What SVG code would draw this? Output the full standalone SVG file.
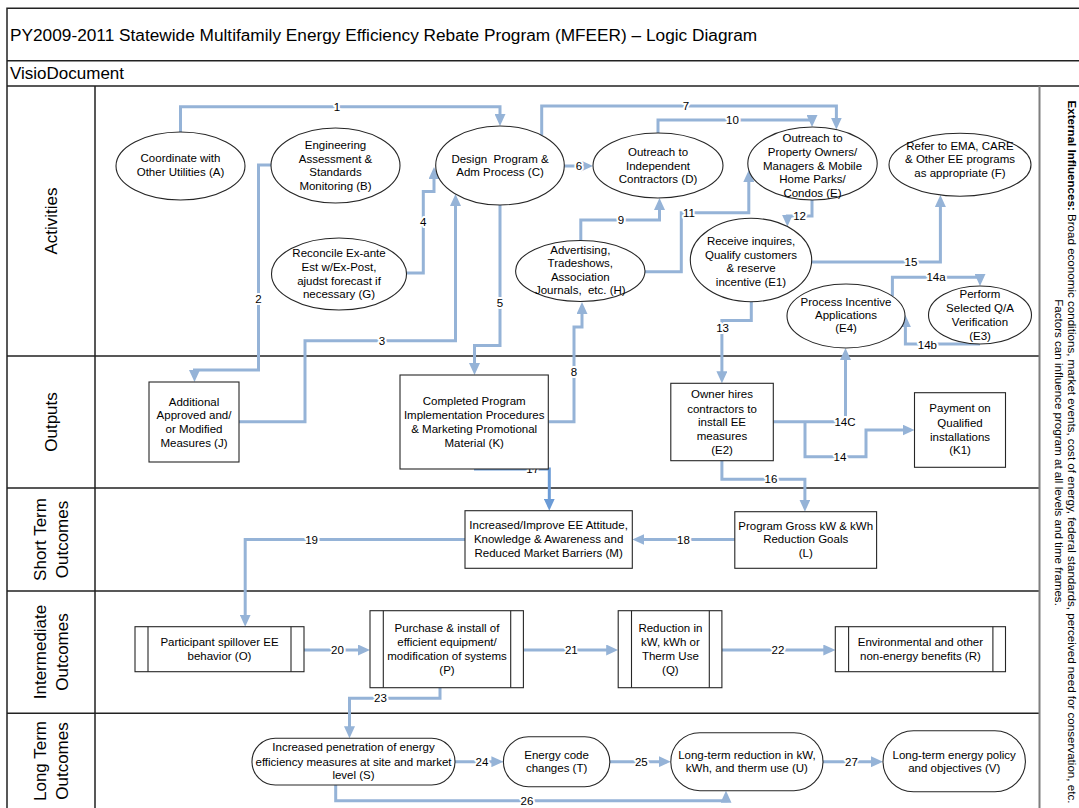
<svg xmlns="http://www.w3.org/2000/svg" width="1079" height="808" viewBox="0 0 1079 808">
<style>
.frm{stroke:#222;stroke-width:1.5;fill:none}
.gry{stroke:#7f7f7f;stroke-width:2;fill:none}
.nd{fill:#fff;stroke:#262626;stroke-width:1.1}
.bar{stroke:#262626;stroke-width:1.1;fill:none}
.t{font-family:"Liberation Sans",Arial,sans-serif;font-size:11.5px;fill:#000;text-anchor:middle}
.ln{font-family:"Liberation Sans",Arial,sans-serif;font-size:17px;fill:#000;text-anchor:middle}
.hd{font-family:"Liberation Sans",Arial,sans-serif;font-size:17px;fill:#000}
.ttl{font-size:17.25px}
.ext{font-family:"Liberation Sans",Arial,sans-serif;font-size:11.6px;fill:#000;text-anchor:middle}
.c{fill:none;stroke:#95b3d7;stroke-width:3;marker-end:url(#ah)}
.c17{fill:none;stroke:#6b9bd6;stroke-width:3;marker-end:url(#ah17)}
.lb{font-family:"Liberation Sans",Arial,sans-serif;font-size:11.5px;fill:#000;text-anchor:middle;stroke:#fff;stroke-width:4;stroke-linejoin:round;paint-order:stroke}
</style>
<defs>
<marker id="ah" markerUnits="userSpaceOnUse" viewBox="0 0 12 11" markerWidth="12" markerHeight="11" refX="8" refY="5.5" orient="auto"><path d="M0,0 L12,5.5 L0,11 z" fill="#95b3d7"/></marker>
<marker id="ah17" markerUnits="userSpaceOnUse" viewBox="0 0 12 11" markerWidth="12" markerHeight="11" refX="8" refY="5.5" orient="auto"><path d="M0,0 L12,5.5 L0,11 z" fill="#6b9bd6"/></marker>
</defs>
<rect width="1079" height="808" fill="#fff"/>
<g id="frame">
<path class="frm" d="M1079,8.3 H7 V808 M7,60.7 H1079 M7,86 H1079 M95,86 V808 M7,356 H1040 M7,488 H1040 M7,591 H1040 M7,713.3 H1040"/>
<path class="gry" d="M1039.5,86 V808"/>
<text class="hd ttl" x="10" y="41">PY2009-2011 Statewide Multifamily Energy Efficiency Rebate Program (MFEER) – Logic Diagram</text>
<text class="hd" x="10" y="78.5">VisioDocument</text>
<text class="ln" transform="translate(0,221) rotate(-90)" x="0" y="56.5">Activities</text>
<text class="ln" transform="translate(0,422) rotate(-90)" x="0" y="56.5">Outputs</text>
<text class="ln" transform="translate(0,539.5) rotate(-90)"><tspan x="0" y="46">Short Term</tspan><tspan x="0" y="67.5">Outcomes</tspan></text>
<text class="ln" transform="translate(0,652) rotate(-90)"><tspan x="0" y="46">Intermediate</tspan><tspan x="0" y="67.5">Outcomes</tspan></text>
<text class="ln" transform="translate(0,761) rotate(-90)"><tspan x="0" y="46">Long Term</tspan><tspan x="0" y="67.5">Outcomes</tspan></text>
<text class="ext" transform="translate(1067.8,452) rotate(90)" x="0" y="0"><tspan font-weight="bold">External Influences:</tspan> Broad economic conditions, market events, cost of energy, federal standards, perceived need for conservation, etc.</text>
<text class="ext" transform="translate(1054.5,452.5) rotate(90)" x="0" y="0">Factors can influence program at all levels and time frames.</text>
</g>
<g id="connectors">
<path class="c" d="M180.5,132 V106.7 H500 V122"/>
<path class="c" d="M271,165 H258.5 V370 H194.5 V378"/>
<path class="c" d="M239,421.7 H305 V340.7 H455.5 V198"/>
<path class="c" d="M406,273 H423.3 V191.5 H434 V171"/>
<path class="c" d="M500,205 V345.5 H474.5 V371"/>
<path class="c" d="M564.3,166 H589"/>
<path class="c" d="M541.7,135.4 V106 H836.4 V125.6"/>
<path class="c" d="M548.3,421.7 H574 V327 H582 V306"/>
<path class="c" d="M580.8,240.5 V220 H659.5 V202"/>
<path class="c" d="M658,133 V120 H812 V123"/>
<path class="c" d="M645,271.7 H681.3 V212.7 H748.8 V174"/>
<path class="c" d="M812,200 V216 H787.4 V222.6"/>
<path class="c" d="M751.3,301.7 V320.5 H721.9 V379.3"/>
<path class="c" d="M773.3,421.7 H845.5 V352"/>
<path class="c" d="M805,421.7 V456.7 H866 V430 H910.5"/>
<path class="c" d="M811.9,262 H940.4 V199"/>
<path class="c" d="M892.4,296.2 V277.3 H980 V282"/>
<path class="c" d="M980,344 H905.4 V319"/>
<path class="c" d="M721.9,460.7 V479.3 H804.9 V507.7"/>
<path class="c17" d="M474,469 H549.3 V506.7"/>
<path class="c" d="M734.8,539.5 H636.3"/>
<path class="c" d="M465,539.5 H245.2 V622.7"/>
<path class="c" d="M304,650 H366"/>
<path class="c" d="M523.4,650 H614.2"/>
<path class="c" d="M721.9,650 H831.3"/>
<path class="c" d="M440,687.7 V698.3 H349.5 V734.3"/>
<path class="c" d="M455,761.7 H499.4"/>
<path class="c" d="M609.8,761.7 H666.8"/>
<path class="c" d="M335.7,785 V800.7 H726 V794.7"/>
<path class="c" d="M823,761.7 H879"/>
<text class="lb" x="337" y="110.8">1</text>
<text class="lb" x="258.5" y="303">2</text>
<text class="lb" x="382" y="344.8">3</text>
<text class="lb" x="423.3" y="225.8">4</text>
<text class="lb" x="500" y="306.8">5</text>
<text class="lb" x="579" y="170">6</text>
<text class="lb" x="686" y="110">7</text>
<text class="lb" x="574" y="375.8">8</text>
<text class="lb" x="621" y="224">9</text>
<text class="lb" x="732.4" y="124">10</text>
<text class="lb" x="689" y="216.8">11</text>
<text class="lb" x="799.6" y="220">12</text>
<text class="lb" x="722.6" y="332.4">13</text>
<text class="lb" x="845" y="425.8">14C</text>
<text class="lb" x="840" y="460.8">14</text>
<text class="lb" x="911" y="266.4">15</text>
<text class="lb" x="936" y="281.4">14a</text>
<text class="lb" x="927.4" y="349">14b</text>
<text class="lb" x="770.9" y="483.4">16</text>
<text class="lb" x="532.7" y="473">17</text>
<text class="lb" x="683.4" y="543.6">18</text>
<text class="lb" x="311.6" y="544">19</text>
<text class="lb" x="337.5" y="654">20</text>
<text class="lb" x="571.3" y="654">21</text>
<text class="lb" x="777.9" y="654">22</text>
<text class="lb" x="380.5" y="702.4">23</text>
<text class="lb" x="482" y="765.8">24</text>
<text class="lb" x="641.3" y="765.8">25</text>
<text class="lb" x="527" y="804.8">26</text>
<text class="lb" x="851.4" y="765.8">27</text>
</g>
<g id="node-A"><ellipse class="nd" cx="180.5" cy="166" rx="64.5" ry="34"/><text class="t"><tspan x="180.5" y="162.4">Coordinate with</tspan><tspan x="180.5" y="176.4">Other Utilities (A)</tspan></text></g>
<g id="node-B"><ellipse class="nd" cx="335.5" cy="165.5" rx="64.5" ry="37.5"/><text class="t"><tspan x="335.5" y="149.1">Engineering</tspan><tspan x="335.5" y="163.1">Assessment &amp;</tspan><tspan x="335.5" y="176.4">Standards</tspan><tspan x="335.5" y="189.8">Monitoring (B)</tspan></text></g>
<g id="node-C"><ellipse class="nd" cx="500" cy="165.5" rx="64.3" ry="39.5"/><text class="t"><tspan x="500" y="163.1">Design&#160; Program &amp;</tspan><tspan x="500" y="175.8">Adm Process (C)</tspan></text></g>
<g id="node-D"><ellipse class="nd" cx="658" cy="165.5" rx="65" ry="32.5"/><text class="t"><tspan x="658" y="155.8">Outreach to</tspan><tspan x="658" y="169.8">Independent</tspan><tspan x="658" y="183.4">Contractors (D)</tspan></text></g>
<g id="node-E"><ellipse class="nd" cx="812.5" cy="163.5" rx="64.7" ry="36.5"/><text class="t"><tspan x="812.5" y="142.4">Outreach to</tspan><tspan x="812.5" y="156.4">Property Owners/</tspan><tspan x="812.5" y="169.8">Managers &amp; Mobile</tspan><tspan x="812.5" y="183.4">Home Parks/</tspan><tspan x="812.5" y="197.4">Condos (E)</tspan></text></g>
<g id="node-F"><ellipse class="nd" cx="960" cy="164.7" rx="71" ry="31.5"/><text class="t"><tspan x="960" y="150.1">Refer to EMA, CARE</tspan><tspan x="960" y="163.4">&amp; Other EE programs</tspan><tspan x="960" y="176.8">as appropriate (F)</tspan></text></g>
<g id="node-G"><ellipse class="nd" cx="339" cy="274" rx="67.5" ry="36"/><text class="t"><tspan x="339" y="257.4">Reconcile Ex-ante</tspan><tspan x="339" y="270.8">Est w/Ex-Post,</tspan><tspan x="339" y="284.8">ajudst forecast if</tspan><tspan x="339" y="298.4">necessary (G)</tspan></text></g>
<g id="node-H"><ellipse class="nd" cx="580.3" cy="271" rx="64.7" ry="30.5"/><text class="t"><tspan x="580.3" y="254.1">Advertising,</tspan><tspan x="580.3" y="267.4">Tradeshows,</tspan><tspan x="580.3" y="280.8">Association</tspan><tspan x="580.3" y="294.1">Journals,&#160; etc. (H)</tspan></text></g>
<g id="node-E1"><ellipse class="nd" cx="751" cy="260" rx="60.7" ry="41.7"/><text class="t"><tspan x="751" y="244.8">Receive inquires,</tspan><tspan x="751" y="259.1">Qualify customers</tspan><tspan x="751" y="272.4">&amp; reserve</tspan><tspan x="751" y="286.4">incentive (E1)</tspan></text></g>
<g id="node-E4"><ellipse class="nd" cx="846" cy="316" rx="59" ry="32"/><text class="t"><tspan x="846" y="305.8">Process Incentive</tspan><tspan x="846" y="319.1">Applications</tspan><tspan x="846" y="332.4">(E4)</tspan></text></g>
<g id="node-E3"><ellipse class="nd" cx="980" cy="315" rx="51.5" ry="29"/><text class="t"><tspan x="980" y="298.1">Perform</tspan><tspan x="980" y="312.4">Selected Q/A</tspan><tspan x="980" y="325.8">Verification</tspan><tspan x="980" y="339.8">(E3)</tspan></text></g>
<g id="node-J"><rect class="nd" x="149" y="382" width="90" height="80"/><text class="t"><tspan x="194" y="405.8">Additional</tspan><tspan x="194" y="419.1">Approved and/</tspan><tspan x="194" y="433.1">or Modified</tspan><tspan x="194" y="446.8">Measures (J)</tspan></text></g>
<g id="node-K"><rect class="nd" x="400" y="375" width="148.3" height="94"/><text class="t"><tspan x="474.2" y="405.1">Completed Program</tspan><tspan x="474.2" y="419.1">Implementation Procedures</tspan><tspan x="474.2" y="433.1">&amp; Marketing Promotional</tspan><tspan x="474.2" y="446.8">Material (K)</tspan></text></g>
<g id="node-E2"><rect class="nd" x="670.8" y="383.3" width="102.5" height="77.4"/><text class="t"><tspan x="722" y="398.4">Owner hires</tspan><tspan x="722" y="413.1">contractors to</tspan><tspan x="722" y="425.8">install EE</tspan><tspan x="722" y="439.8">measures</tspan><tspan x="722" y="454.1">(E2)</tspan></text></g>
<g id="node-K1"><rect class="nd" x="914.5" y="392.7" width="91" height="74.6"/><text class="t"><tspan x="960" y="412.4">Payment on</tspan><tspan x="960" y="426.8">Qualified</tspan><tspan x="960" y="440.8">installations</tspan><tspan x="960" y="454.1">(K1)</tspan></text></g>
<g id="node-M"><rect class="nd" x="465" y="510.7" width="167.3" height="57.6"/><text class="t"><tspan x="548.6" y="529.1">Increased/Improve EE Attitude,</tspan><tspan x="548.6" y="543.4">Knowledge &amp; Awareness and</tspan><tspan x="548.6" y="556.8">Reduced Market Barriers (M)</tspan></text></g>
<g id="node-L"><rect class="nd" x="734.8" y="511.7" width="141.8" height="56.6"/><text class="t"><tspan x="805.7" y="529.8">Program Gross kW &amp; kWh</tspan><tspan x="805.7" y="543.4">Reduction Goals</tspan><tspan x="805.7" y="557.4">(L)</tspan></text></g>
<g id="node-O"><rect class="nd" x="135" y="626.7" width="169" height="45"/><path class="bar" d="M148,626.7 V671.7 M291,626.7 V671.7"/><text class="t"><tspan x="219.5" y="645.8">Participant spillover EE</tspan><tspan x="219.5" y="659.8">behavior (O)</tspan></text></g>
<g id="node-P"><rect class="nd" x="370" y="610.7" width="153.4" height="77"/><path class="bar" d="M383.3,610.7 V687.7 M510.7,610.7 V687.7"/><text class="t"><tspan x="447" y="632.4">Purchase &amp; install of</tspan><tspan x="447" y="646.4">efficient equipment/</tspan><tspan x="447" y="659.8">modification of systems</tspan><tspan x="447" y="674.1">(P)</tspan></text></g>
<g id="node-Q"><rect class="nd" x="618.2" y="610.7" width="103.7" height="77"/><path class="bar" d="M631.5,610.7 V687.7 M709.3,610.7 V687.7"/><text class="t"><tspan x="670.4" y="632.4">Reduction in</tspan><tspan x="670.4" y="646.4">kW, kWh or</tspan><tspan x="670.4" y="659.8">Therm Use</tspan><tspan x="670.4" y="674.1">(Q)</tspan></text></g>
<g id="node-R"><rect class="nd" x="835.3" y="626.7" width="170.2" height="45"/><path class="bar" d="M848.6,626.7 V671.7 M992.9,626.7 V671.7"/><text class="t"><tspan x="920.4" y="645.8">Environmental and other</tspan><tspan x="920.4" y="659.8">non-energy benefits (R)</tspan></text></g>
<g id="node-S"><rect class="nd" x="252" y="738.3" width="203" height="46.7" rx="23.3"/><text class="t"><tspan x="353.5" y="751.4">Increased penetration of energy</tspan><tspan x="353.5" y="765.8">efficiency measures at site and market</tspan><tspan x="353.5" y="779.1">level (S)</tspan></text></g>
<g id="node-T"><rect class="nd" x="503.4" y="736.7" width="106.4" height="50" rx="25"/><text class="t"><tspan x="556.6" y="759.1">Energy code</tspan><tspan x="556.6" y="772.4">changes (T)</tspan></text></g>
<g id="node-U"><rect class="nd" x="670.8" y="732.7" width="152.2" height="58" rx="29"/><text class="t"><tspan x="746.9" y="759.1">Long-term reduction in kW,</tspan><tspan x="746.9" y="772.4">kWh, and therm use (U)</tspan></text></g>
<g id="node-V"><rect class="nd" x="883" y="730.7" width="142.4" height="61" rx="30.5"/><text class="t"><tspan x="954.2" y="759.1">Long-term energy policy</tspan><tspan x="954.2" y="772.4">and objectives (V)</tspan></text></g>
</svg>
